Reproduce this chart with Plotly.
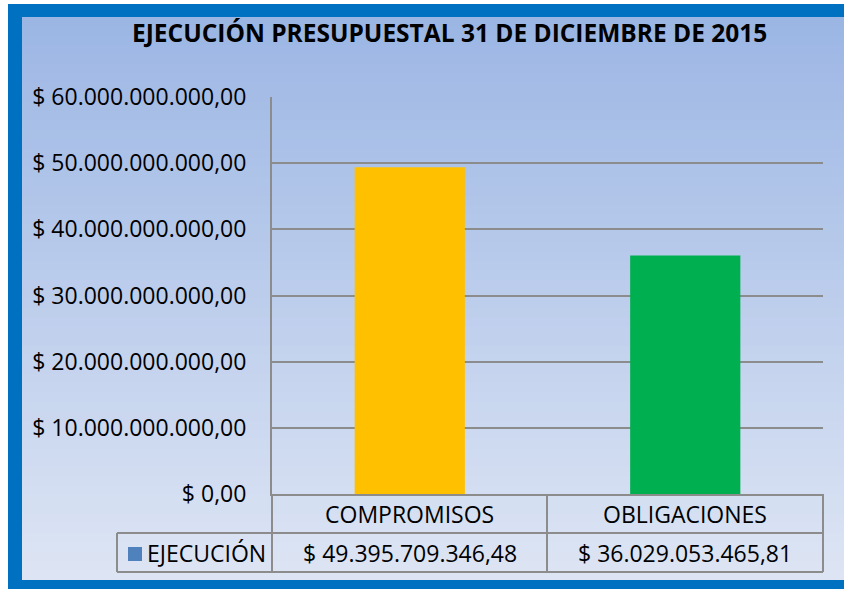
import plotly.graph_objects as go

# datos
categorias = ["COMPROMISOS", "OBLIGACIONES"]
ejecucion = [49395709346.48, 36029053465.81]
serie = "EJECUCIÓN"
titulo = "EJECUCIÓN PRESUPUESTAL 31 DE DICIEMBRE DE 2015"
y_ticks = [0, 10e9, 20e9, 30e9, 40e9, 50e9, 60e9]
colores = ["#FFC000", "#00B050"]

W, H = 844, 589
FONT = "Open Sans"


def pesos(v):
    s = f"{v:,.2f}".replace(",", "#").replace(".", ",").replace("#", ".")
    return "$ " + s


def px_x(x):
    return x / W


def px_y(y):
    return 1 - y / H


def mezcla(c1, c2, t):
    return "rgb(%d,%d,%d)" % tuple(round(a + (b - a) * t) for a, b in zip(c1, c2))


fig = go.Figure()
fig.add_trace(go.Bar(
    x=categorias, y=ejecucion, name=serie,
    marker=dict(color=colores, line=dict(width=0)),
    width=0.4, showlegend=False,
))

shapes = []
# marco azul
shapes.append(dict(type="rect", xref="paper", yref="paper",
                   x0=px_x(8), x1=px_x(860), y0=px_y(600), y1=px_y(4),
                   fillcolor="#0070C0", line=dict(width=0), layer="below"))
# fondo degradado
top_c, bot_c = (156, 182, 228), (221, 229, 244)
n = 60
y_a, y_b = 17, 580
for i in range(n):
    ya = y_a + (y_b - y_a) * i / n
    yb = min(y_a + (y_b - y_a) * (i + 1) / n + 2, y_b)
    shapes.append(dict(type="rect", xref="paper", yref="paper",
                       x0=px_x(22), x1=px_x(860), y0=px_y(yb), y1=px_y(ya),
                       fillcolor=mezcla(top_c, bot_c, i / (n - 1)),
                       line=dict(width=0), layer="below"))

# tabla de datos
gris = "#8C8C8C"
x_left, x_mid, x_right, x_key = 272, 547, 823, 117
y_axis, y_row, y_end = 494, 533, 572
tabla = [
    (x_left, y_axis, x_left, y_end),
    (x_mid, y_axis, x_mid, y_end),
    (x_right, y_axis, x_right, y_end),
    (x_key, y_row, x_right, y_row),
    (x_key, y_end, x_right, y_end),
    (x_key, y_row, x_key, y_end),
]
for x0, y0, x1, y1 in tabla:
    shapes.append(dict(type="line", xref="paper", yref="paper",
                       x0=px_x(x0), x1=px_x(x1), y0=px_y(y0), y1=px_y(y1),
                       line=dict(color=gris, width=2)))
# clave de leyenda
shapes.append(dict(type="rect", xref="paper", yref="paper",
                   x0=px_x(128), x1=px_x(142), y0=px_y(561), y1=px_y(547),
                   fillcolor="#4F81BD", line=dict(width=0)))

txt = dict(family=FONT, size=23, color="#000")
annotations = []
for cat, val in zip(categorias, ejecucion):
    annotations.append(dict(x=cat, xref="x", y=px_y(514), yref="paper",
                            text=cat, showarrow=False, yanchor="middle",
                            font=txt))
    annotations.append(dict(x=cat, xref="x", y=px_y(553), yref="paper",
                            text=pesos(val), showarrow=False, yanchor="middle",
                            font=txt))
annotations.append(dict(x=px_x(145), xref="paper", y=px_y(553), yref="paper",
                        text=serie, showarrow=False, xanchor="left",
                        yanchor="middle", font=txt))
annotations.append(dict(x=px_x(449), xref="paper", y=px_y(33), yref="paper",
                        text="<b>" + titulo + "</b>", showarrow=False,
                        yanchor="middle",
                        font=dict(family=FONT, size=24.5, color="#000")))

fig.update_layout(
    width=W, height=H,
    margin=dict(l=0, r=0, t=0, b=0, pad=0),
    paper_bgcolor="white", plot_bgcolor="rgba(0,0,0,0)",
    shapes=shapes, annotations=annotations,
    xaxis=dict(domain=[px_x(272), px_x(823)], range=[-0.5, 1.5],
               showticklabels=False, showgrid=False, zeroline=False,
               showline=True, linecolor=gris, linewidth=2, fixedrange=True,
               automargin=False),
    yaxis=dict(domain=[px_y(494), px_y(97)], range=[0, 60e9],
               tickvals=y_ticks, ticktext=[pesos(v) for v in y_ticks],
               ticks="outside", ticklen=19, tickcolor="rgba(0,0,0,0)",
               tickfont=txt, automargin=False,
               showgrid=True, gridcolor=gris, gridwidth=1.5,
               zeroline=False, showline=True, linecolor=gris, linewidth=2),
    font=dict(family=FONT),
)

fig.write_html("out.html", config={"displayModeBar": False},
               post_script="document.body.style.margin='0';")
